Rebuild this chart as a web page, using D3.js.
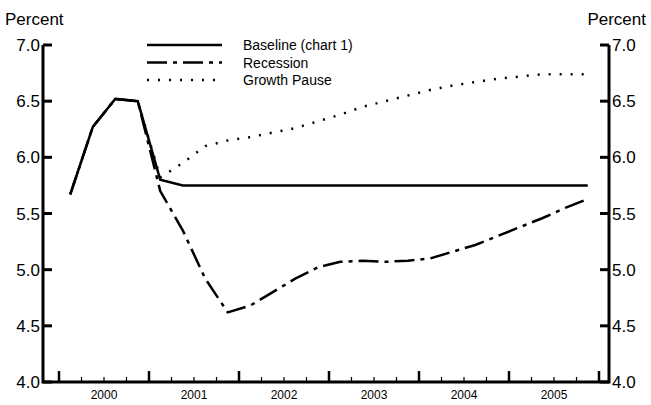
<!DOCTYPE html>
<html><head><meta charset="utf-8">
<script src="https://cdn.jsdelivr.net/npm/d3@7"></script>
<style>body{margin:0;background:#fff}text{font-family:"Liberation Sans",Arial,sans-serif}</style>
</head><body><svg id="c" width="651" height="405"></svg>
<script>
var years = ["2000","2001","2002","2003","2004","2005"]
var yTicks = [4.0,4.5,5.0,5.5,6.0,6.5,7.0]
var baseline = [5.67,6.27,6.52,6.50,5.80,5.75,5.75,5.75,5.75,5.75,5.75,5.75,5.75,5.75,5.75,5.75,5.75,5.75,5.75,5.75,5.75,5.75,5.75,5.75]
var recession = [5.67,6.27,6.52,6.50,5.70,5.35,4.92,4.62,4.68,4.80,4.92,5.02,5.07,5.08,5.07,5.08,5.10,5.16,5.22,5.30,5.38,5.46,5.55,5.63]
var growthPause = [5.67,6.27,6.52,6.50,5.82,5.95,6.10,6.15,6.18,6.22,6.26,6.32,6.38,6.45,6.50,6.55,6.60,6.64,6.67,6.70,6.72,6.74,6.74,6.74]

var svg = d3.select("#c")
var padL = 43, padR = 609, padT = 45, padB = 382
var x = d3.scaleLinear().domain([0,24]).range([59,599])
var y = d3.scaleLinear().domain([4,7]).range([padB,padT])

yTicks.forEach(function(v){
    svg.append("line").attr("x1",padL).attr("x2",padL+9).attr("y1",y(v)).attr("y2",y(v)).attr("stroke","#000").attr("stroke-width",3)
    svg.append("line").attr("x1",padR).attr("x2",padR-9).attr("y1",y(v)).attr("y2",y(v)).attr("stroke","#000").attr("stroke-width",3)
    svg.append("text").attr("x",padL-3).attr("y",y(v)+6).attr("text-anchor","end").attr("font-size",17).text(v.toFixed(1))
    svg.append("text").attr("x",padR+3).attr("y",y(v)+6).attr("font-size",17).text(v.toFixed(1))
})
d3.range(25).forEach(function(q){
    var major = q%4==0
    svg.append("line").attr("x1",x(q)).attr("x2",x(q)).attr("y1",padB).attr("y2",padB-(major?11:5))
        .attr("stroke","#000").attr("stroke-width",major?2.5:1.2)
})
years.forEach(function(yr,i){
    svg.append("text").attr("x",x(i*4+2)).attr("y",399).attr("text-anchor","middle").attr("font-size",12).text(yr)
})
svg.append("path").attr("d","M"+padL+","+padT+"V"+padB+"H"+padR+"V"+padT).attr("fill","none").attr("stroke","#000").attr("stroke-width",3)
svg.append("text").attr("x",5).attr("y",25).attr("font-size",17).text("Percent")
svg.append("text").attr("x",646).attr("y",25).attr("text-anchor","end").attr("font-size",17).text("Percent")

var line = d3.line().x(function(d,i){return x(i+0.5)}).y(function(d){return y(d)})
var series = [
    {name:"Baseline (chart 1)", data:baseline, dash:null, w:2.5},
    {name:"Recession", data:recession, dash:"20,6,4,6", w:2.5},
    {name:"Growth Pause", data:growthPause, dash:"2,9", w:2.5}
]
series.slice().reverse().forEach(function(s){
    svg.append("path").attr("d",line(s.data)).attr("fill","none").attr("stroke","#000")
        .attr("stroke-width",s.w).attr("stroke-dasharray",s.dash)
})
series.forEach(function(s,i){
    var ly = 45+i*17.5
    svg.append("line").attr("x1",147).attr("x2",222).attr("y1",ly).attr("y2",ly).attr("stroke","#000")
        .attr("stroke-width",s.w).attr("stroke-dasharray",s.dash)
    svg.append("text").attr("x",243).attr("y",ly+5).attr("font-size",14).text(s.name)
})
</script></body></html>
